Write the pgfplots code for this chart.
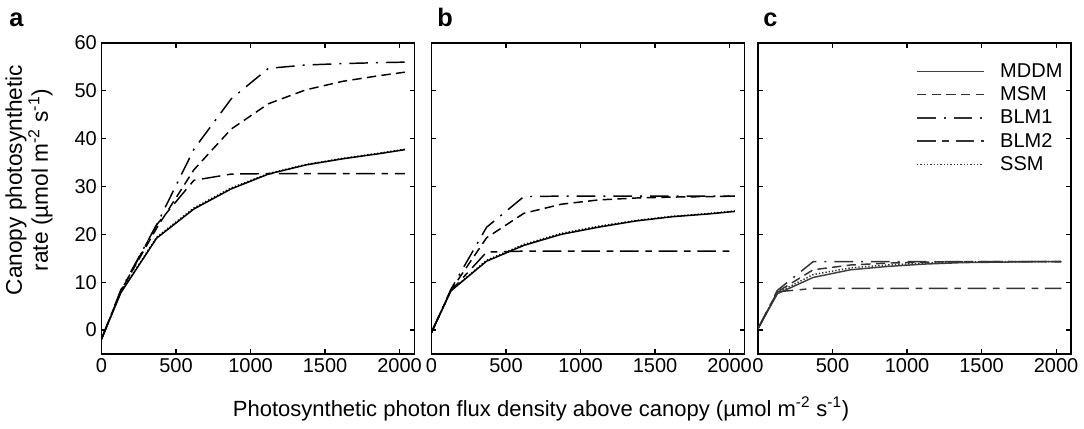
\documentclass[border=0pt]{standalone}
\usepackage{pgfplots}
\usepackage{pgfplotstable}
\pgfplotsset{compat=1.18}
\usepackage{fontspec}
\setmainfont{Liberation Sans}

\pgfplotstableread{
x    mddm  ssm   msm   blma  blmb
0    -1.9  -1.9  -1.9  -1.9  -1.9
130   7.8   7.9   8.2   8.4   8.1
370  19.2  19.4  21.3  22.0  22.0
620  25.3  25.5  33.5  37.8  31.3
870  29.5  29.7  42.0  48.3  32.6
1120 32.6  32.7  47.3  54.7  32.7
1370 34.5  34.6  50.2  55.4  32.7
1620 35.8  35.9  52.0  55.7  32.7
1870 36.9  37.0  53.2  55.9  32.7
2035 37.7  37.8  53.9  56.0  32.7
}\tableA

\pgfplotstableread{
x    mddm  ssm   msm   blma  blmb
0    -0.5  -0.5  -0.5  -0.5  -0.5
130   8.2   8.2   8.3   8.5   8.2
370  14.4  14.6  19.3  21.5  16.3
620  17.7  17.9  24.4  27.9  16.5
870  20.0  20.2  26.3  28.0  16.5
1120 21.5  21.7  27.2  28.0  16.5
1370 22.8  22.9  27.6  28.0  16.5
1620 23.7  23.8  27.8  28.0  16.5
1870 24.3  24.4  27.9  28.0  16.5
2035 24.8  24.9  28.0  28.0  16.5
}\tableB

\pgfplotstableread{
x    mddm  ssm   msm   blma  blmb
0     0.3   0.3   0.3   0.3   0.3
130   7.6   7.8   8.0   8.3   8.0
370  11.0  11.6  12.6  14.3   8.7
620  12.6  13.0  13.6  14.3   8.7
870  13.3  13.6  14.0  14.3   8.7
1120 13.8  14.0  14.2  14.3   8.7
1370 14.1  14.2  14.3  14.3   8.7
1620 14.2  14.3  14.3  14.3   8.7
1870 14.3  14.3  14.3  14.3   8.7
2035 14.3  14.3  14.3  14.3   8.7
}\tableC

\pgfplotsset{
  panel/.style={
    scale only axis, width=234.75pt, height=233.25pt,
    xmin=0, xmax=2100, ymin=-5, ymax=60,
    xtick={0,500,1000,1500,2000}, ytick={0,10,20,30,40,50,60},
    axis line style={line width=1.3pt},
    every tick/.style={black, line width=0.9pt},
    major tick length=3.5pt,
    tick align=inside,
    tick label style={font=\fontsize{15}{17}\selectfont},
    /pgf/number format/assume math mode=true,
    /pgf/number format/set thousands separator={},
    anchor=south west,
  },
  mddm/.style={line width=1.1pt, solid},
  msm/.style={line width=1.1pt, dash pattern=on 7pt off 4pt},
  blma/.style={line width=1.1pt, dash pattern=on 14pt off 6pt on 1.5pt off 6pt},
  blmb/.style={line width=1.1pt, dash pattern=on 14pt off 5pt on 5pt off 5pt},
  ssm/.style={line width=1.1pt, dash pattern=on 1pt off 1.5pt},
}

\begin{document}
\begin{tikzpicture}
\path[use as bounding box] (0pt,0pt) rectangle (813pt,321pt);

% panel a
\begin{axis}[panel, at={(76.1pt,55.5pt)}]
\addplot[blmb] table[x=x,y=blmb]{\tableA};
\addplot[blma] table[x=x,y=blma]{\tableA};
\addplot[msm] table[x=x,y=msm]{\tableA};
\addplot[ssm] table[x=x,y=ssm]{\tableA};
\addplot[mddm] table[x=x,y=mddm]{\tableA};
\end{axis}

% panel b
\begin{axis}[panel, at={(323.6pt,55.5pt)}, yticklabels={}]
\addplot[blmb] table[x=x,y=blmb]{\tableB};
\addplot[blma] table[x=x,y=blma]{\tableB};
\addplot[msm] table[x=x,y=msm]{\tableB};
\addplot[mddm] table[x=x,y=mddm]{\tableB};
\addplot[ssm] table[x=x,y=ssm]{\tableB};
\end{axis}

% panel c
\begin{axis}[panel, at={(568.5pt,55.5pt)}, yticklabels={},
  legend style={draw=none, fill=none, at={(0.982,0.943)}, anchor=north east,
    font=\fontsize{15}{17}\selectfont, inner sep=0pt,
    row sep=1.5pt, column sep=10pt},
  legend cell align=left,
  legend image code/.code={\draw[#1] (0pt,0pt) -- (50pt,0pt);}]
\addplot[mddm, black!75] table[x=x,y=mddm]{\tableC};
\addlegendentry{MDDM}
\addplot[msm, black!80] table[x=x,y=msm]{\tableC};
\addlegendentry{MSM}
\addplot[blma, black!80] table[x=x,y=blma]{\tableC};
\addlegendentry{BLM1}
\addplot[blmb, black!80] table[x=x,y=blmb]{\tableC};
\addlegendentry{BLM2}
\addplot[ssm, black!80] table[x=x,y=ssm]{\tableC};
\addlegendentry{SSM}
\end{axis}

% panel letters
\node[anchor=base west, inner sep=0pt, font=\fontsize{19}{21}\selectfont\bfseries] at (6.75pt,300.75pt) {a};
\node[anchor=base west, inner sep=0pt, font=\fontsize{19}{21}\selectfont\bfseries] at (327.75pt,300.75pt) {b};
\node[anchor=base west, inner sep=0pt, font=\fontsize{19}{21}\selectfont\bfseries] at (572.25pt,300.75pt) {c};

% axis labels
\node[rotate=90, align=center, font=\fontsize{17}{19.5}\selectfont] at (21.75pt,186pt)
  {Canopy photosynthetic\\rate (µmol m\textsuperscript{-2} s\textsuperscript{-1})};
\node[font=\fontsize{16.5}{19}\selectfont] at (405.75pt,14.25pt)
  {Photosynthetic photon flux density above canopy (µmol m\textsuperscript{-2} s\textsuperscript{-1})};
\end{tikzpicture}
\end{document}
